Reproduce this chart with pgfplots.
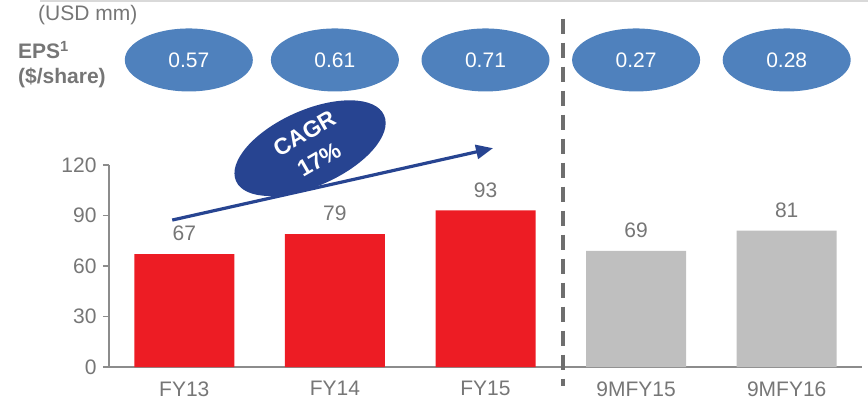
\documentclass[border=0pt]{standalone}
\usepackage{pgfplots}
\pgfplotsset{compat=1.18}
\usepackage{fontspec}
\setmainfont{Liberation Sans}
\usetikzlibrary{shapes.geometric,arrows.meta}

\definecolor{barred}{RGB}{237,28,36}
\definecolor{bargray}{RGB}{191,191,191}
\definecolor{epsblue}{RGB}{79,129,189}
\definecolor{cagrblue}{RGB}{39,68,145}
\definecolor{txtgray}{RGB}{118,118,118}
\definecolor{axgray}{RGB}{140,140,140}
\definecolor{dashgray}{RGB}{110,110,110}
\definecolor{topline}{RGB}{217,217,217}

\newcommand{\fs}{\fontsize{21}{24}\selectfont}

\begin{document}
\begin{tikzpicture}[x=1pt,y=1pt]
\useasboundingbox (0,0) rectangle (868,402);
\draw[topline, line width=1.5pt] (40,401.2) -- (868,401.2);
\node[anchor=west, text=txtgray, font=\fs, inner sep=0] at (38,387) {(USD mm)};
\node[anchor=west, text=txtgray, font=\fs\bfseries, inner sep=0] at (18,352) {EPS\textsuperscript{1}};
\node[anchor=west, text=txtgray, font=\fs\bfseries, inner sep=0] at (18,324) {(\$/share)};

\begin{axis}[
    at={(109pt,35pt)}, anchor=south west,
    scale only axis, width=753pt, height=202pt,
    xmin=-0.5, xmax=4.5, ymin=0, ymax=120,
    clip=false,
    axis x line*=bottom, axis y line*=left,
    axis line style={axgray, line width=1.3pt},
    every tick/.style={axgray, line width=1.3pt},
    tick align=outside,
    xtick={0,1,2,3,4},
    xticklabels={FY13,FY14,FY15,9MFY15,9MFY16},
    major x tick style={draw=none},
    extra x ticks={-0.5,0.5,1.5,2.5,3.5,4.5},
    extra x tick labels={},
    extra x tick style={major tick length=6pt, tick style={axgray, line width=1.3pt}},
    ytick={0,30,60,90,120},
    major tick length=6pt,
    ticklabel style={font=\fs, text=txtgray},
    /pgf/number format/assume math mode=true,
    xticklabel style={yshift=-5pt},
    yticklabel style={xshift=-3pt},
  ]
  % revenue bars
  \addplot[ybar, bar width=100pt, fill=barred, draw=none,
    nodes near coords, nodes near coords style={font=\fs, text=txtgray, anchor=south, inner sep=0, yshift=13pt}]
    coordinates {(0,67) (1,79) (2,93)};
  \addplot[ybar, bar width=100pt, fill=bargray, draw=none,
    nodes near coords, nodes near coords style={font=\fs, text=txtgray, anchor=south, inner sep=0, yshift=13pt}]
    coordinates {(3,69) (4,81)};
  % EPS row
  \addplot[draw=none, mark=none, nodes near coords, point meta=explicit symbolic,
    nodes near coords style={ellipse, fill=epsblue, text=white, font=\fs,
      minimum width=128pt, minimum height=63pt, inner sep=0, anchor=center}]
    table[meta=l] {
      x     y     l
      0.03  182.4 0.57
      1.0   182.4 0.61
      2.0   182.4 0.71
      3.0   182.4 0.27
      4.0   182.4 0.28
    };
  % divider
  \draw[dashgray, line width=3.5pt, dash pattern=on 15pt off 9pt]
    (axis cs:2.515,207) -- (axis cs:2.515,-11);
  % CAGR arrow
  \draw[cagrblue, line width=3.2pt, -{Triangle[length=17pt,width=14pt]}]
    (axis cs:-0.08,87.3) -- (axis cs:2.05,130);
  \node[ellipse, fill=cagrblue, minimum width=162pt, minimum height=76pt, inner sep=0,
    rotate=24] at (axis cs:0.835,130) {};
  \node[rotate=30, text=white, font=\fontsize{23}{30}\selectfont\bfseries, align=center, inner sep=0]
    at (axis cs:0.85,131) {CAGR\\17\%};
\end{axis}
\end{tikzpicture}
\end{document}
